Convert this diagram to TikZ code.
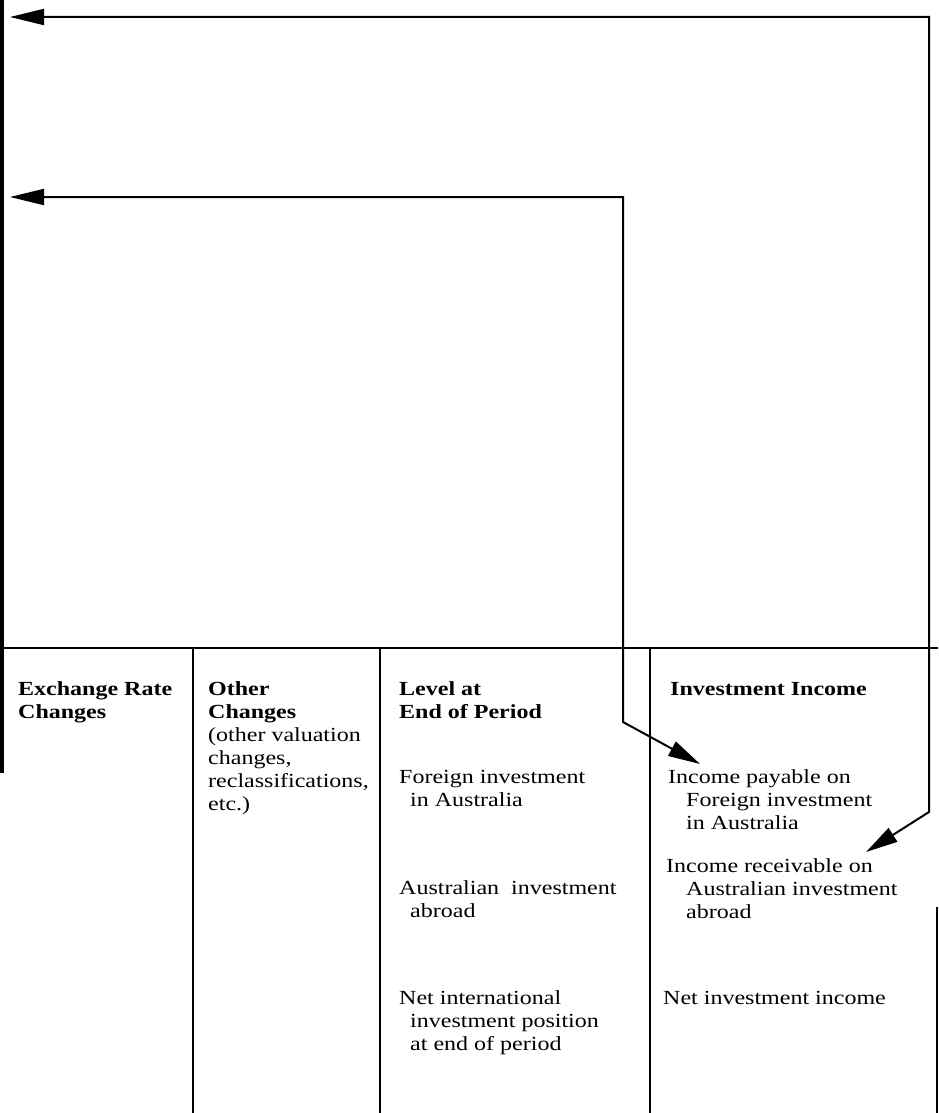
\documentclass[tikz,border=0pt]{standalone}
\usepackage{fontspec}
\setmainfont{Liberation Serif}[FakeStretch=1.2]
\usetikzlibrary{arrows.meta}
\tikzset{
  bigtip/.tip={Triangle[length=34pt,width=16pt]},
  smalltip/.tip={Triangle[length=32pt,width=16pt]}
}
\begin{document}
\begin{tikzpicture}[x=1pt,y=-1pt,
  txt/.style={anchor=base west, inner sep=0pt, font=\fontsize{20}{23}\selectfont},
  bld/.style={anchor=base west, inner sep=0pt, font=\fontsize{20}{23}\selectfont\bfseries},
  rulel/.style={line width=2pt},
  flowline/.style={line width=2pt, line join=miter}]
\useasboundingbox (0,0) rectangle (938,1113);
% frame and columns
\draw[line width=4pt] (2,0) -- (2,773);
\draw[rulel] (0,648) -- (938,648);
\draw[rulel] (193,648) -- (193,1113);
\draw[rulel] (380,648) -- (380,1113);
\draw[rulel] (650,648) -- (650,1113);
\draw[rulel] (937,907) -- (937,1113);
% texts
\node[bld] (erc1) at (18,695) {Exchange Rate};
\node[bld] (erc2) at (18,718) {Changes};
\node[bld] (oc1) at (208,695) {Other};
\node[bld] (oc2) at (208,718) {Changes};
\node[txt] (oc3) at (208,741) {(other valuation};
\node[txt] (oc4) at (208,764) {changes,};
\node[txt] (oc5) at (208,787) {reclassifications,};
\node[txt] (oc6) at (208,810) {etc.)};
\node[bld] (lv1) at (399,695) {Level at};
\node[bld] (lv2) at (399,718) {End of Period};
\node[txt] (fi1) at (399,783) {Foreign investment};
\node[txt] (fi2) at (410,806) {in Australia};
\node[txt] (ai1) at (399,894) {Australian\ \ investment};
\node[txt] (ai2) at (410,917) {abroad};
\node[txt] (ni1) at (399,1004) {Net international};
\node[txt] (ni2) at (410,1027) {investment position};
\node[txt] (ni3) at (410,1050) {at end of period};
\node[bld] (ii) at (670,695) {Investment Income};
\node[txt] (ip1) at (668,783) {Income payable on};
\node[txt] (ip2) at (686,806) {Foreign investment};
\node[txt] (ip3) at (686,829) {in Australia};
\node[txt] (ir1) at (666,872) {Income receivable on};
\node[txt] (ir2) at (686,895) {Australian investment};
\node[txt] (ir3) at (686,918) {abroad};
\node[txt] (nii) at (663,1004) {Net investment income};
% connectors
\coordinate (aL1) at (10,17);
\coordinate (aL2) at (10,197);
\coordinate (tipP) at (700,764);
\coordinate (tipR) at (866,852);
\draw[flowline, bigtip-smalltip] (aL1) -- (929,17) -- (929,812) -- (tipR);
\draw[flowline, bigtip-smalltip] (aL2) -- (623,197) -- (623,722) -- (tipP);
\end{tikzpicture}
\end{document}
